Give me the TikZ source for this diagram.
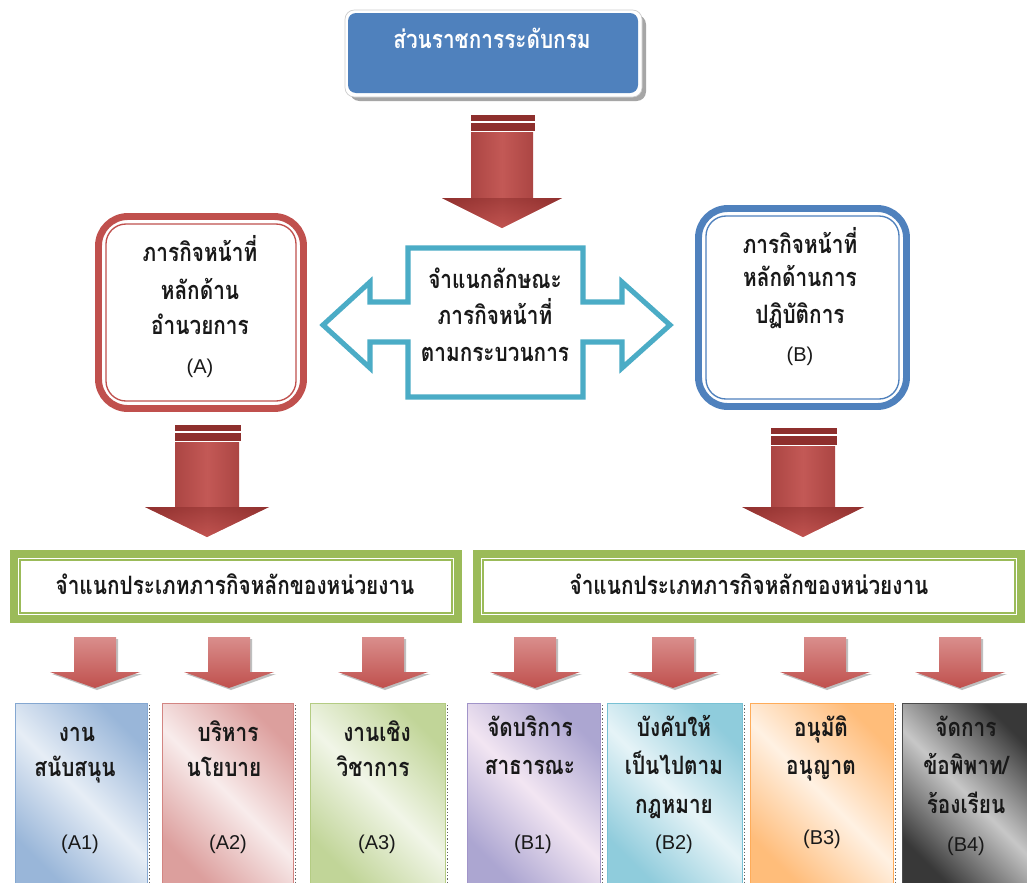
\documentclass[tikz,border=0pt]{standalone}
\usepackage{fontspec}
\newfontfamily\thai[Script=Thai, FakeStretch=0.82]{Loma}
\newfontfamily\lat{Liberation Sans}
\definecolor{cRed}{HTML}{C0504D}
\definecolor{cRedD}{HTML}{8E2F2D}
\definecolor{cRedL}{HTML}{D98E8C}
\definecolor{cBlue}{HTML}{4F81BD}
\definecolor{cTeal}{HTML}{4BACC6}
\definecolor{cGreen}{HTML}{9BBB59}
\newcommand\bigarrow[7]{% cx, stripe top, shaft top, shaft half, head top, head half, tip
  \fill[cRedD] ({#1-#4},#2) rectangle ({#1+#4+2},{#2+6});
  \fill[cRedD] ({#1-#4},{#2+8}) rectangle ({#1+#4+2},{#3-1});
  \shade[left color=cRedD!85!cRed, right color=cRedD!85!cRed, middle color=cRed!95!white]
    ({#1-#4},#3) -- ({#1+#4},#3) -- ({#1+#4},#5) -- ({#1+#6},#5) -- (#1,#7)
    -- ({#1-#6},#5) -- ({#1-#4},#5) -- cycle;
  \shade[top color=cRedD, bottom color=cRed, opacity=0.6]
    ({#1-#6},#5) -- ({#1+#6},#5) -- (#1,#7) -- cycle;
}
\newcommand\smallarrow[1]{% cx
  \fill[black!25] ({#1-19},639) -- ({#1+23},639) -- ({#1+23},674) -- ({#1+47},674) -- ({#1+2},690)
    -- ({#1-43},674) -- ({#1-19},674) -- cycle;
  \shade[top color=cRedL, bottom color=cRed]
    ({#1-21},637) -- ({#1+21},637) -- ({#1+21},672) -- ({#1+45},672) -- (#1,688)
    -- ({#1-45},672) -- ({#1-21},672) -- cycle;
}
\newcommand\pbox[5]{% x1, x2, dark, light, border
  \shade[left color=#3, right color=#3, middle color=#4, shading angle=135]
    (#1,703) rectangle (#2,884);
  \draw[#5, line width=0.7pt] (#1,884) -- (#1,703) -- (#2,703) -- (#2,884);
  \draw[black!60, line width=0.5pt, dash pattern=on 1pt off 1.5pt] ({#2+2},705) -- ({#2+2},884);
}
\begin{document}
\begin{tikzpicture}[x=0.75pt,y=-0.75pt,
  th/.style={anchor=base, inner sep=0pt, font=\thai\bfseries\fontsize{19}{22}\selectfont, text=black!90},
  lt/.style={anchor=base, inner sep=0pt, font=\lat\fontsize{15}{18}\selectfont, text=black!90}]
\useasboundingbox[fill=white] (0,0) rectangle (1027,882);

% top box
\fill[black!35, rounded corners=7pt] (350,15) rectangle (646,101);
\fill[white, rounded corners=7pt] (345,10) rectangle (642,97);
\draw[black!20, line width=0.5pt, rounded corners=7pt] (345,10) rectangle (642,97);
\fill[cBlue, rounded corners=6pt] (348,13) rectangle (638,93);
\node[th, text=white] (top) at (492,48) {ส่วนราชการระดับกรม};

% top arrow
\bigarrow{502}{115}{132}{31}{198}{60}{228}

% box A
\draw[cRed, line width=5.2pt, rounded corners=22pt] (98.5,216.5) rectangle (303.5,408.5);
\draw[cRed, line width=1pt, rounded corners=15pt] (106,224) rectangle (296,401);
\node[th] (a1l) at (200,261) {ภารกิจหน้าที่};
\node[th] (a2l) at (200,299) {หลักด้าน};
\node[th] (a3l) at (200,334) {อำนวยการ};
\node[lt] (a4l) at (200,373) {(A)};

% box B
\draw[cBlue, line width=5.2pt, rounded corners=22pt] (698.5,208.5) rectangle (906.5,406.5);
\draw[cBlue, line width=1pt, rounded corners=15pt] (706,216) rectangle (899,399);
\node[th] (b1l) at (800,253) {ภารกิจหน้าที่};
\node[th] (b2l) at (800,286) {หลักด้านการ};
\node[th] (b3l) at (800,323) {ปฏิบัติการ};
\node[lt] (b4l) at (800,361) {(B)};

% center double arrow
\draw[cTeal, line width=3.8pt, fill=white, miter limit=10]
  (408,248) -- (583,248) -- (583,302) -- (622,302) -- (622,282) -- (670,325)
  -- (622,368) -- (622,342) -- (583,342) -- (583,397) -- (408,397) -- (408,342)
  -- (370,342) -- (370,368) -- (323,325) -- (370,282) -- (370,302) -- (408,302) -- cycle;
\node[th] (c1) at (495,288) {จำแนกลักษณะ};
\node[th] (c2) at (495,324) {ภารกิจหน้าที่};
\node[th] (c3) at (495,361) {ตามกระบวนการ};

% side arrows
\bigarrow{207}{425}{442}{32}{507}{62}{537}
\bigarrow{803}{428}{446}{32}{507}{61}{537}

% green boxes
\draw[cGreen, line width=6pt] (14,554) rectangle (458,619);
\draw[cGreen, line width=0.9pt] (20,560) rectangle (452,613);
\node[th] (g1) at (235,594) {จำแนกประเภทภารกิจหลักของหน่วยงาน};
\draw[cGreen, line width=6pt] (477,554) rectangle (1021,619);
\draw[cGreen, line width=0.9pt] (483,560) rectangle (1015,613);
\node[th] (g2) at (749,594) {จำแนกประเภทภารกิจหลักของหน่วยงาน};

% small arrows
\smallarrow{95}
\smallarrow{229}
\smallarrow{383}
\smallarrow{535}
\smallarrow{673}
\smallarrow{825}
\smallarrow{960}

% bottom boxes
\pbox{15}{147}{cBlue!58}{cBlue!14}{cBlue!70}
\pbox{162}{293}{cRed!55}{cRed!11}{cRed!70}
\pbox{310}{445}{cGreen!62}{cGreen!14}{cGreen!75}
\pbox{467}{600}{violet!35!cBlue!52}{violet!10!white}{violet!40!cBlue!60}
\pbox{607}{742}{cTeal!62}{cTeal!14}{cTeal!75}
\pbox{750}{893}{orange!52}{orange!11}{orange!65}
\pbox{902}{1030}{black!78}{black!22}{black!70}

\node[th] (p1a) at (77,741) {งาน};
\node[th] (p1b) at (75,776) {สนับสนุน};
\node[lt] (p1c) at (80,849) {(A1)};
\node[th] (p2a) at (228,741) {บริหาร};
\node[th] (p2b) at (224,776) {นโยบาย};
\node[lt] (p2c) at (228,849) {(A2)};
\node[th] (p3a) at (377,741) {งานเชิง};
\node[th] (p3b) at (373,776) {วิชาการ};
\node[lt] (p3c) at (377,849) {(A3)};
\node[th] (q1a) at (530,736) {จัดบริการ};
\node[th] (q1b) at (530,774) {สาธารณะ};
\node[lt] (q1c) at (533,849) {(B1)};
\node[th] (q2a) at (674,736) {บังคับให้};
\node[th] (q2b) at (674,774) {เป็นไปตาม};
\node[th] (q2c) at (674,813) {กฎหมาย};
\node[lt] (q2d) at (674,849) {(B2)};
\node[th] (q3a) at (821,736) {อนุมัติ};
\node[th] (q3b) at (821,774) {อนุญาต};
\node[lt] (q3c) at (822,844) {(B3)};
\node[th] (q4a) at (966,736) {จัดการ};
\node[th] (q4b) at (966,774) {ข้อพิพาท/};
\node[th] (q4c) at (966,813) {ร้องเรียน};
\node[lt] (q4d) at (966,851) {(B4)};
\end{tikzpicture}
\end{document}
